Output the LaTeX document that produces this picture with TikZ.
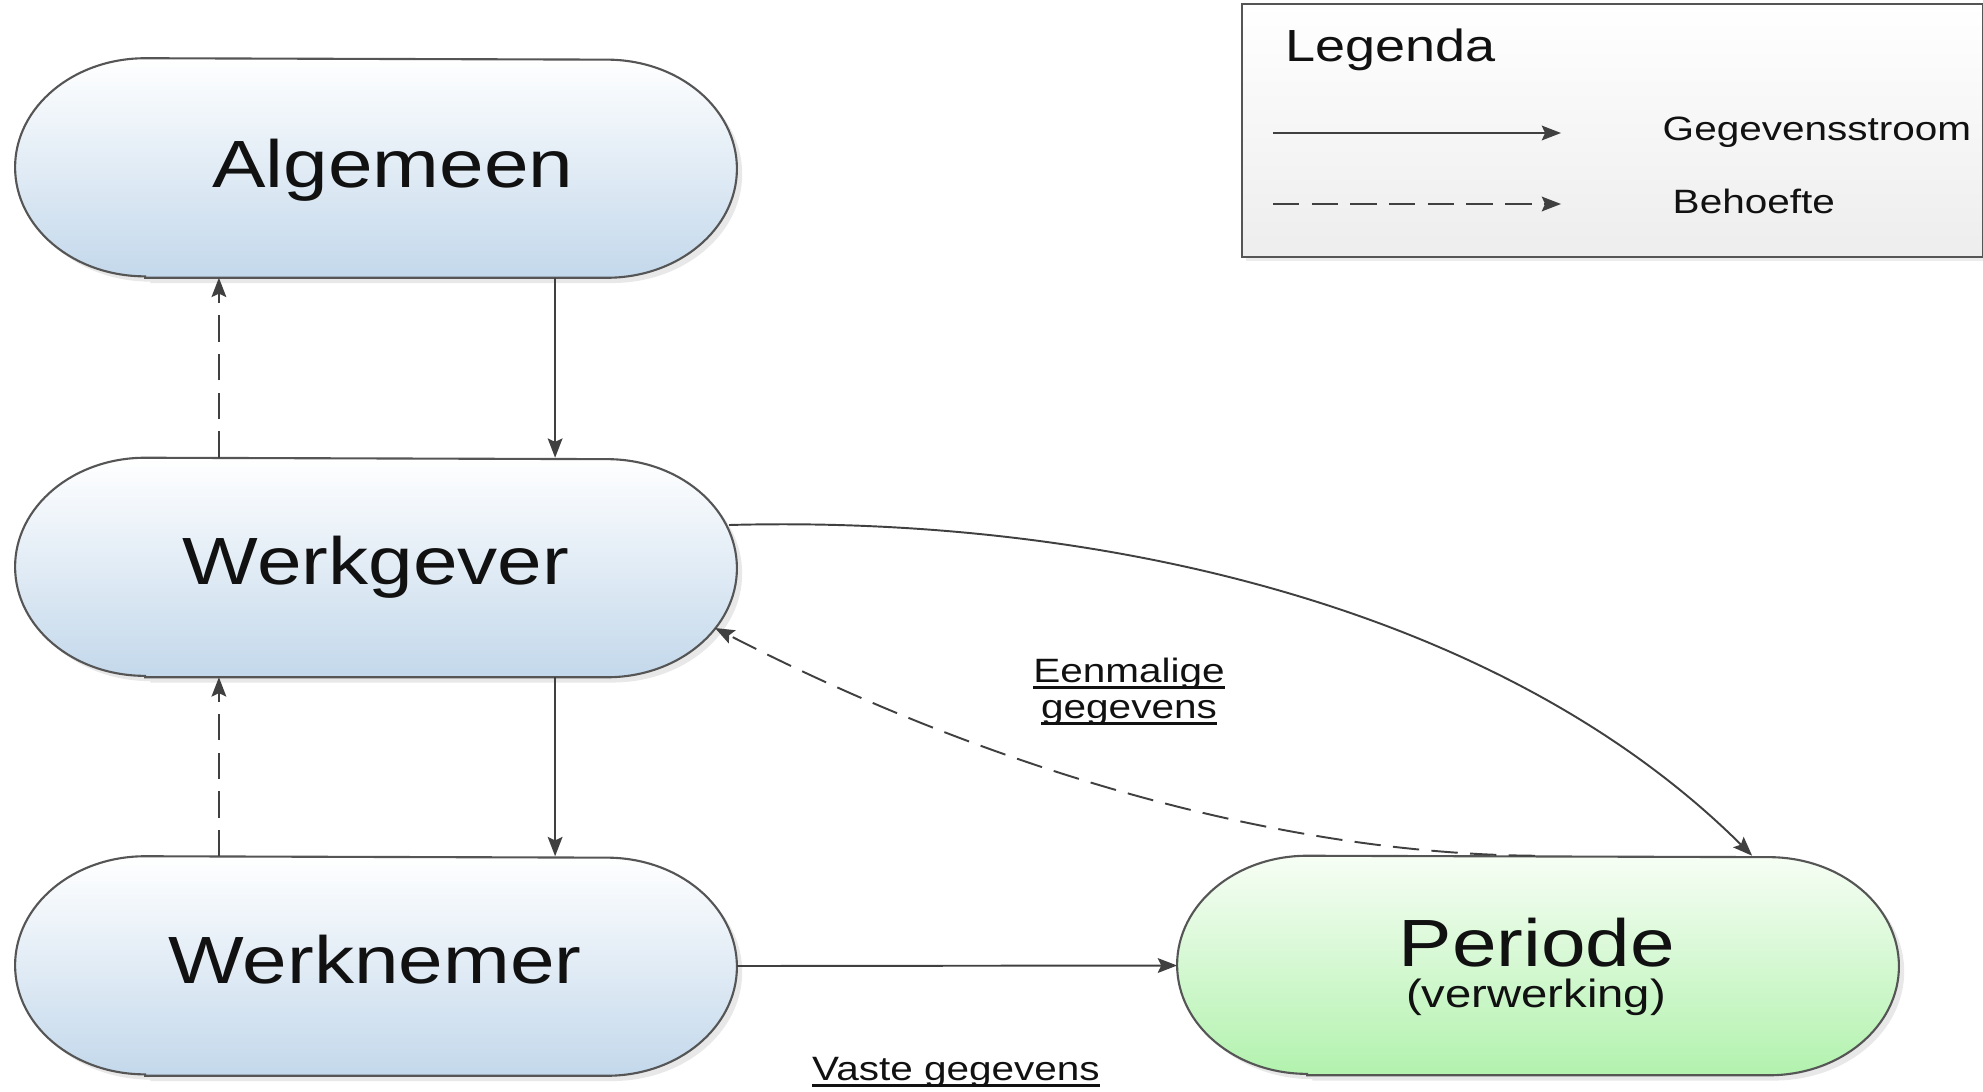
\documentclass[tikz,border=0pt]{standalone}
\usepackage{fontspec}
\setmainfont{Liberation Sans}[FakeStretch=1.2]
\usetikzlibrary{arrows.meta,shadows,backgrounds}
\definecolor{linegray}{HTML}{404040}
\definecolor{bordergray}{HTML}{555555}
\definecolor{blueTop}{HTML}{FFFFFF}
\definecolor{blueBot}{HTML}{C3D8EB}
\definecolor{greenTop}{HTML}{F7FEF5}
\definecolor{greenBot}{HTML}{B2F2AE}
\definecolor{legBot}{HTML}{EDEDED}
\definecolor{txt}{HTML}{111111}
\newcommand\pillshape[2]{%
  \path[#2] ([xshift=1.3cm]#1.south west) -- ([xshift=-1.3cm]#1.south east)
    arc[start angle=-90,end angle=90,x radius=1.3cm,y radius=1.09cm]
    -- ([xshift=1.3cm]#1.north west)
    arc[start angle=90,end angle=270,x radius=1.3cm,y radius=1.09cm] -- cycle;}
\newcommand\ulbox[1]{\setbox0\hbox{#1}\rlap{\vrule width\wd0 height -1.2pt depth 1.85pt}\box0}
\begin{document}
\begin{tikzpicture}[x=0.01cm,y=-0.01cm,
  pillnode/.style={rectangle,draw=none,inner sep=0pt,minimum width=7.2cm,minimum height=2.18cm},
  bluefill/.style={draw=bordergray,line width=0.6pt,top color=blueTop,bottom color=blueBot,
     drop shadow={opacity=0.18,shadow xshift=1.5pt,shadow yshift=-1.5pt}},
  greenfill/.style={draw=bordergray,line width=0.6pt,top color=greenTop,bottom color=greenBot,
     drop shadow={opacity=0.18,shadow xshift=1.5pt,shadow yshift=-1.5pt}},
  bigtxt/.style={anchor=base,text=txt,inner sep=0pt,font=\fontsize{19}{23}\selectfont},
  subtxt/.style={anchor=base,text=txt,inner sep=0pt,font=\fontsize{11.2}{13}\selectfont},
  legtitle/.style={anchor=base west,text=txt,inner sep=0pt,font=\fontsize{12.8}{15}\selectfont},
  smalltxt/.style={anchor=base,text=txt,inner sep=0pt,font=\fontsize{9.6}{11.5}\selectfont},
  legtxt/.style={anchor=base west,text=txt,inner sep=0pt,font=\fontsize{9.6}{11.5}\selectfont},
  flow/.style={draw=linegray,line width=0.55pt,-{Stealth[length=5.5pt,width=4.2pt,inset=1pt]}},
  need/.style={flow,dash pattern=on 7.5pt off 3.5pt}]
\useasboundingbox (0,0) rectangle (1983,1091);

% nodes (shapes)
\node[pillnode] (alg) at (376,168) {};
\node[pillnode] (wg) at (376,567.5) {};
\node[pillnode] (wn) at (376,966) {};
\node[pillnode] (pe) at (1538,965.5) {};
\node[rectangle,inner sep=0pt,minimum width=7.39cm,minimum height=2.51cm] (leg) at (1612.5,130.5) {};

\begin{scope}[on background layer]
  \pillshape{alg}{bluefill}
  \pillshape{wg}{bluefill}
  \pillshape{wn}{bluefill}
  \pillshape{pe}{greenfill}
  \path[draw=bordergray,line width=0.7pt,top color=white,bottom color=legBot,
     drop shadow={opacity=0.15,shadow xshift=1.2pt,shadow yshift=-1.2pt}]
     (leg.north west) rectangle (leg.south east);
\end{scope}

% texts
\node[bigtxt] (algT) at (393,188) {Algemeen};
\node[bigtxt] (wgT) at (376,584) {Werkgever};
\node[bigtxt] (wnT) at (375,983) {Werknemer};
\node[bigtxt] (peT) at (1537,966) {Periode};
\node[subtxt] (peS) at (1536,1007) {(verwerking)};

% vertical connectors
\draw[need] ([xshift=-1.57cm]wg.north) -- ([xshift=-1.57cm]alg.south);
\draw[flow] ([xshift=1.79cm]alg.south) -- ([xshift=1.79cm]wg.north);
\draw[need] ([xshift=-1.57cm]wn.north) -- ([xshift=-1.57cm]wg.south);
\draw[flow] ([xshift=1.79cm]wg.south) -- ([xshift=1.79cm]wn.north);

% horizontal connector
\draw[flow] (wn.east) -- (pe.west);

% curved connectors
\coordinate (wgA) at ([shift={(353,-42.5)}]wg.center);
\coordinate (wgB) at ([shift={(339,60.5)}]wg.center);
\coordinate (peA) at ([xshift=2.14cm]pe.north);
\coordinate (peB) at ([xshift=-0.03cm]pe.north);
\draw[flow] (wgA) .. controls (1100,515) and (1502,607) .. (peA);
\draw[need] (peB) .. controls (1290,854) and (1000,775) .. (wgB);

% labels
\node[smalltxt] (lblE) at (1129,682) {\ulbox{Eenmalige}};
\node[smalltxt] (lblG) at (1129,718) {\ulbox{gegevens}};
\node[smalltxt] (lblV) at (956,1080) {\ulbox{Vaste gegevens}};

% legend
\node[legtitle] (legT) at (1285,62) {Legenda};
\coordinate (l1a) at (1273,133);
\coordinate (l1b) at (1561,133);
\coordinate (l2a) at (1273,204);
\coordinate (l2b) at (1561,204);
\draw[flow] (l1a) -- (l1b);
\draw[need] (l2a) -- (l2b);
\node[legtxt] (legG) at (1662,141) {Gegevensstroom};
\node[legtxt] (legB) at (1672,213) {Behoefte};
\end{tikzpicture}
\end{document}
